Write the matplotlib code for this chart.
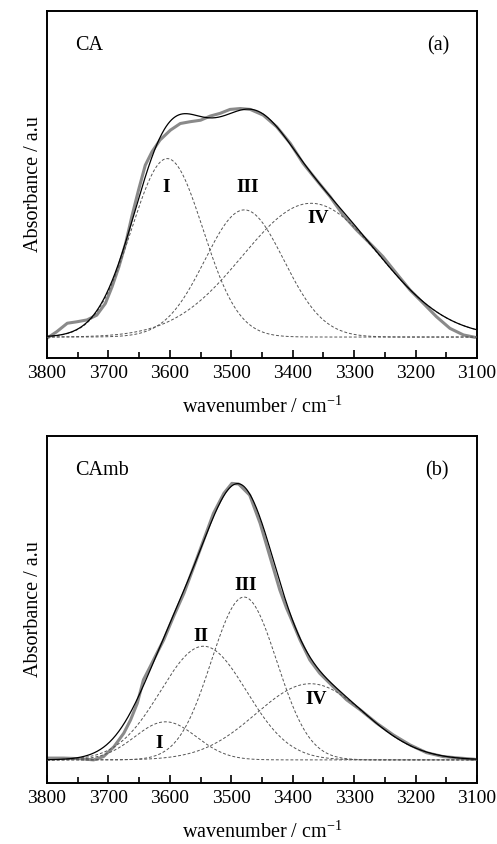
import numpy as np
import matplotlib
matplotlib.use('Agg')
import matplotlib.pyplot as plt
from matplotlib.ticker import MultipleLocator

plt.rcParams['font.family'] = ['Liberation Serif', 'DejaVu Serif']
plt.rcParams['mathtext.fontset'] = 'custom'
plt.rcParams['mathtext.rm'] = 'Liberation Serif'

# ---- panel (a): CA ----
ca_wn = [3800, 3784, 3767, 3751, 3735, 3719, 3705, 3694, 3683, 3672, 3662, 3651,
         3640, 3629, 3616, 3599, 3583, 3567, 3550, 3534, 3518, 3502, 3485, 3469,
         3448, 3426, 3404, 3383, 3361, 3339, 3318, 3296, 3274, 3253, 3231, 3209,
         3187, 3166, 3144, 3122, 3103]
ca_abs = [-0.004, 0.018, 0.046, 0.051, 0.057, 0.073, 0.112, 0.168, 0.234, 0.312,
          0.401, 0.490, 0.573, 0.618, 0.657, 0.690, 0.712, 0.718, 0.723, 0.737,
          0.746, 0.759, 0.762, 0.759, 0.740, 0.701, 0.646, 0.579, 0.523, 0.468,
          0.407, 0.357, 0.312, 0.268, 0.212, 0.157, 0.112, 0.068, 0.029, 0.007,
          -0.001]
# fitted Gaussian bands: centre, height, sigma
ca_band_names = ['I', 'III', 'IV']
ca_centres = [3604.2, 3478.7, 3370.0]
ca_heights = [0.595, 0.424, 0.446]
ca_sigmas = [58.0, 64.2, 111.8]
ca_label_pos = [(3606, 0.50), (3474, 0.50), (3358, 0.396)]

# ---- panel (b): CAmb ----
camb_wn = [3800, 3773, 3746, 3724, 3708, 3691, 3675, 3664, 3653, 3643, 3632, 3621,
           3610, 3594, 3577, 3561, 3545, 3529, 3512, 3499, 3488, 3470, 3453, 3437,
           3421, 3410, 3404, 3388, 3372, 3356, 3334, 3312, 3290, 3263, 3236, 3209,
           3182, 3155, 3128, 3103]
camb_abs = [0.006, 0.006, 0.004, 0.000, 0.011, 0.044, 0.089, 0.133, 0.189, 0.267,
            0.311, 0.356, 0.400, 0.478, 0.556, 0.644, 0.733, 0.822, 0.889, 0.922,
            0.920, 0.883, 0.789, 0.678, 0.567, 0.506, 0.478, 0.400, 0.333, 0.289,
            0.244, 0.200, 0.167, 0.122, 0.083, 0.050, 0.024, 0.011, 0.006, 0.002]
camb_band_names = ['I', 'II', 'III', 'IV']
camb_centres = [3607.0, 3545.2, 3479.2, 3371.1]
camb_heights = [0.127, 0.379, 0.543, 0.254]
camb_sigmas = [50.2, 69.9, 53.3, 88.7]
camb_label_pos = [(3618, 0.056), (3550, 0.411), (3477, 0.583), (3361, 0.20)]


def draw_panel(ax, wn, absb, centres, heights, sigmas, names, label_pos,
               sample, tag, ylim):
    grid = np.linspace(3800, 3100, 701)
    comps = [h * np.exp(-(grid - c) ** 2 / (2 * s ** 2))
             for c, h, s in zip(centres, heights, sigmas)]
    # measured spectrum
    ax.plot(wn, absb, color='#8a8a8a', lw=2.2, solid_joinstyle='round',
            solid_capstyle='round', zorder=2)
    # deconvoluted bands and their sum
    for comp in comps:
        ax.plot(grid, comp, color='#555555', lw=0.7, ls=(0, (3, 2)), zorder=3)
    ax.plot(grid, np.sum(comps, axis=0), color='black', lw=0.9, zorder=4)
    for name, (x, y) in zip(names, label_pos):
        ax.text(x, y, name, ha='center', va='center', fontsize=14,
                fontweight='bold')
    ax.text(0.065, 0.90, sample, transform=ax.transAxes, fontsize=14.5,
            ha='left', va='center')
    ax.text(0.935, 0.90, tag, transform=ax.transAxes, fontsize=14.5,
            ha='right', va='center')
    ax.set_xlim(3800, 3100)
    ax.set_ylim(*ylim)
    ax.xaxis.set_major_locator(MultipleLocator(100))
    ax.xaxis.set_minor_locator(MultipleLocator(50))
    ax.tick_params(axis='x', which='major', direction='in', length=6, width=1.2,
                   labelsize=14, pad=5)
    ax.tick_params(axis='x', which='minor', direction='in', length=4, width=1.2)
    ax.set_yticks([])
    for sp in ax.spines.values():
        sp.set_linewidth(1.4)
    ax.set_xlabel('wavenumber / cm$^{\\mathregular{-1}}$', fontsize=14.5,
                  labelpad=10)
    ax.set_ylabel('Absorbance / a.u', fontsize=14.5, labelpad=3)


fig = plt.figure(figsize=(4.97, 8.44), dpi=100)
ax_a = fig.add_axes([0.0946, 0.5758, 0.865, 0.4111])
ax_b = fig.add_axes([0.0946, 0.0723, 0.865, 0.4111])

draw_panel(ax_a, ca_wn, ca_abs, ca_centres, ca_heights, ca_sigmas,
           ca_band_names, ca_label_pos, 'CA', '(a)', (-0.07, 1.087))
draw_panel(ax_b, camb_wn, camb_abs, camb_centres, camb_heights, camb_sigmas,
           camb_band_names, camb_label_pos, 'CAmb', '(b)', (-0.077, 1.08))

fig.savefig('out.png', dpi=100)
